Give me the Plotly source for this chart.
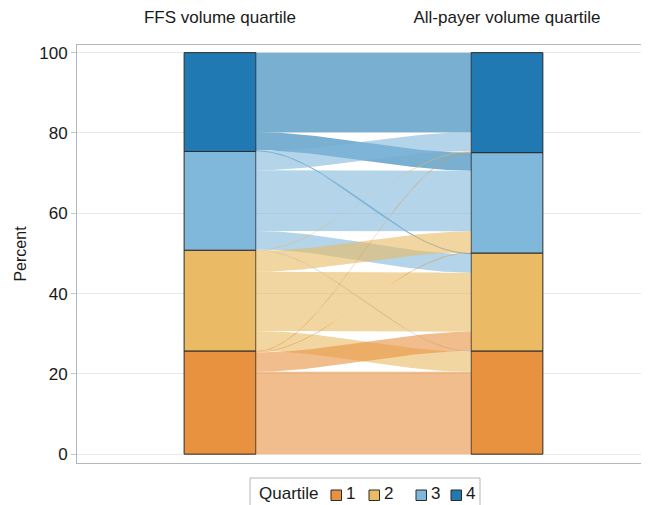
import numpy as np
import plotly.graph_objects as go

# axis labels (top of the two columns)
axis_names = ["FFS volume quartile", "All-payer volume quartile"]
quartiles = ["1", "2", "3", "4"]

# percent of hospitals moving from FFS quartile (row) to all-payer quartile (to 1,2,3,4)
from_q1 = [20.5, 4.8, 0.2, 0.2]
from_q2 = [5.0, 14.7, 5.2, 0.2]
from_q3 = [0.2, 4.6, 15.1, 4.7]
from_q4 = [0.0, 0.3, 4.5, 19.8]

colors = ["#E8913F", "#EABA64", "#80B8DB", "#2079B2"]
flow_alpha = 0.6

flows = np.array([from_q1, from_q2, from_q3, from_q4])
left_sizes = flows.sum(axis=1)
right_sizes = flows.sum(axis=0)
left_base = np.concatenate([[0], np.cumsum(left_sizes)[:-1]])
right_base = np.concatenate([[0], np.cumsum(right_sizes)[:-1]])

bar_w = 0.25
x0, x1 = 1 + bar_w / 2, 2 - bar_w / 2


def rgba(hex_color, a):
    h = hex_color.lstrip("#")
    r, g, b = int(h[0:2], 16), int(h[2:4], 16), int(h[4:6], 16)
    return f"rgba({r},{g},{b},{a})"


fig = go.Figure()

# position of each flow inside its left and right stratum
# left: top of stratum goes to highest destination; right: top receives highest source
left_top = {}
for s in range(4):
    y = left_base[s] + left_sizes[s]
    for d in range(3, -1, -1):
        left_top[(s, d)] = y
        y -= flows[s, d]
right_top = {}
for d in range(4):
    y = right_base[d] + right_sizes[d]
    for s in range(3, -1, -1):
        right_top[(s, d)] = y
        y -= flows[s, d]

t = np.linspace(0, 1, 80)
ease = 3 * t**2 - 2 * t**3
xs = x0 + (x1 - x0) * t

for s in range(3, -1, -1):
    for d in range(3, -1, -1):
        v = flows[s, d]
        if v <= 0:
            continue
        lt, rt = left_top[(s, d)], right_top[(s, d)]
        top = lt + (rt - lt) * ease
        bot = top - v
        fig.add_trace(
            go.Scatter(
                x=np.concatenate([xs, xs[::-1]]),
                y=np.concatenate([top, bot[::-1]]),
                mode="lines",
                fill="toself",
                fillcolor=rgba(colors[s], flow_alpha),
                line=dict(width=0),
                showlegend=False,
                hoverinfo="skip",
            )
        )

# the strata
for q in range(4):
    fig.add_trace(
        go.Bar(
            x=[1, 2],
            y=[left_sizes[q], right_sizes[q]],
            base=[left_base[q], right_base[q]],
            width=bar_w,
            name=quartiles[q],
            showlegend=False,
            marker=dict(color=colors[q], line=dict(color="#2b2b2b", width=1)),
        )
    )

# the page has an 8px body margin, so the figure sits at (8, 8) in the window;
# legend is drawn by hand, positions given in window pixels -> paper coords
PL, PR, PT, PB = 77, 641, 45, 463


def px(x):
    return (x - PL) / (PR - PL)


def py(y):
    return (PB - y) / (PB - PT)


shapes = [
    dict(type="rect", xref="paper", yref="paper",
         x0=px(250), x1=px(480), y0=py(478), y1=py(520),
         line=dict(color="#b5b5b5", width=1), fillcolor="white", layer="above")
]
annotations = [
    dict(text="Quartile", xref="paper", yref="paper", x=px(257), y=py(494),
         xanchor="left", yanchor="middle", showarrow=False, font=dict(size=17))
]
sq_left = [331, 369, 416, 451]
for q in range(4):
    shapes.append(dict(type="rect", xref="paper", yref="paper",
                       x0=px(sq_left[q]), x1=px(sq_left[q] + 10.5),
                       y0=py(500.5), y1=py(490),
                       fillcolor=colors[q], line=dict(color="#2b2b2b", width=1)))
    annotations.append(dict(text=quartiles[q], xref="paper", yref="paper",
                            x=px(sq_left[q] + 13), y=py(494), xanchor="left",
                            yanchor="middle", showarrow=False, font=dict(size=17)))

fig.update_layout(
    width=633,
    height=497,
    margin=dict(l=PL - 8, r=0, t=PT - 8, b=497 - (PB - 8), autoexpand=False),
    plot_bgcolor="white",
    paper_bgcolor="white",
    font=dict(family="Arial", size=17, color="#1a1a1a"),
    barmode="overlay",
    showlegend=False,
    shapes=shapes,
    annotations=annotations,
)

fig.update_xaxes(
    range=[1 - (220 - PL) / 287, 2 + (PR - 507) / 287],
    tickvals=[1, 2],
    ticktext=axis_names,
    side="top",
    showgrid=False,
    zeroline=False,
    ticks="",
    showline=True,
    linecolor="#b0b7bf",
    mirror=True,
    automargin=False,
    ticklabelstandoff=14,
    tickfont=dict(size=17),
)
fig.update_yaxes(
    range=[-2.2, 101.9],
    tickvals=[0, 20, 40, 60, 80, 100],
    showgrid=True,
    gridcolor="#e8e8e8",
    zeroline=False,
    ticks="outside",
    ticklen=5,
    tickcolor="#c8c8c8",
    showline=True,
    linecolor="#b0b7bf",
    mirror=True,
    automargin=False,
    title=dict(text="Percent", standoff=8, font=dict(size=16)),
    tickfont=dict(size=17),
)

fig.write_html("out.html")
